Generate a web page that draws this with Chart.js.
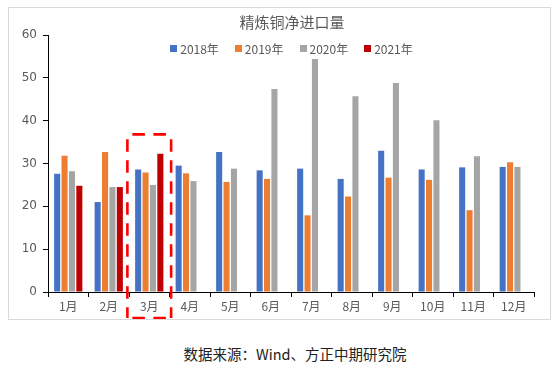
<!DOCTYPE html>
<html lang="zh">
<head>
  <meta charset="UTF-8">
  <title>精炼铜净进口量</title>
  <style>
    * { margin: 0; padding: 0; box-sizing: border-box; }
    body {
      width: 560px;
      height: 374px;
      background: #ffffff;
      position: relative;
      font-family: "Noto Sans CJK SC", "DejaVu Sans", sans-serif;
      overflow: hidden;
    }
    .chart-box {
      position: absolute;
      left: 8px;
      top: 7px;
      width: 543px;
      height: 313px;
      border: 1px solid #d9d9d9;
    }
    .chart-box canvas { display: block; }
    .title {
      position: absolute;
      left: 0;
      top: 5px;
      width: 100%;
      padding-left: 25px;
      text-align: center;
      font-size: 15px;
      line-height: 18px;
      color: #595959;
    }
    .legend {
      position: absolute;
      left: 0;
      top: 32px;
      width: 100%;
      display: flex;
      justify-content: center;
      gap: 16px;
      padding-left: 24px;
      font-size: 12px;
      color: #595959;
    }
    .legend span { display: flex; align-items: center; }
    .legend i {
      display: inline-block;
      width: 7px;
      height: 7px;
      margin-right: 3px;
    }
    .source {
      position: absolute;
      left: 0;
      top: 343px;
      width: 590px;
      text-align: center;
      font-size: 14.5px;
      color: #222;
    }
  </style>
  <script src="https://cdn.jsdelivr.net/npm/chart.js@4.4.0/dist/chart.umd.min.js"></script>
</head>
<body>
  <div class="chart-box">
    <canvas id="copyChart" width="541" height="311"></canvas>
    <div class="title">精炼铜净进口量</div>
    <div class="legend" id="legend"></div>
  </div>
  <div class="source">数据来源：Wind、方正中期研究院</div>

  <script>
    const months = ['1月', '2月', '3月', '4月', '5月', '6月', '7月', '8月', '9月', '10月', '11月', '12月'];
    const seriesNames = ['2018年', '2019年', '2020年', '2021年'];
    const seriesColors = ['#4472C4', '#ED7D31', '#A5A5A5', '#C00000'];
    const y2018 = [27.6, 21.0, 28.6, 29.5, 32.7, 28.4, 28.8, 26.4, 33.0, 28.6, 29.1, 29.2];
    const y2019 = [31.8, 32.7, 27.9, 27.7, 25.7, 26.4, 17.9, 22.3, 26.7, 26.2, 19.1, 30.3];
    const y2020 = [28.2, 24.5, 25.0, 25.9, 28.8, 47.4, 54.4, 45.7, 48.8, 40.1, 31.7, 29.2];
    const y2021 = [24.8, 24.5, 32.3, null, null, null, null, null, null, null, null, null];
    const yTicks = [0, 10, 20, 30, 40, 50, 60];

    const allSeries = [y2018, y2019, y2020, y2021];

    // 图例（HTML）
    const legendEl = document.getElementById('legend');
    seriesNames.forEach((name, i) => {
      legendEl.innerHTML += '<span><i style="background:' + seriesColors[i] + '"></i>' + name + '</span>';
    });

    // 3月的红色虚线框
    const highlightBox = {
      id: 'highlightBox',
      afterDatasetsDraw(chart) {
        const x = chart.scales.x;
        const y = chart.scales.y;
        const cx = x.getPixelForValue(2);
        const half = x.width / months.length * 0.54;
        const l = cx - half, r = cx + half;
        const t = y.getPixelForValue(36.8);
        const b = chart.chartArea.bottom + 26;
        const ctx = chart.ctx;
        ctx.save();
        ctx.strokeStyle = '#ff0000';
        ctx.lineWidth = 2.6;
        ctx.setLineDash([12.5, 8.5]);
        ctx.lineDashOffset = 16;
        [[l, t, r, t], [l, t, l, b], [r, t, r, b], [l, b, r, b]].forEach(s => {
          ctx.beginPath();
          ctx.moveTo(s[0], s[1]);
          ctx.lineTo(s[2], s[3]);
          ctx.stroke();
        });
        ctx.restore();
      }
    };

    const ctx = document.getElementById('copyChart').getContext('2d');
    new Chart(ctx, {
      type: 'bar',
      data: {
        labels: months,
        datasets: allSeries.map((data, i) => ({
          label: seriesNames[i],
          data: data,
          backgroundColor: seriesColors[i],
          categoryPercentage: 0.73,
          barPercentage: 0.82
        }))
      },
      options: {
        responsive: false,
        animation: false,
        layout: { padding: { left: 0, right: 16, top: 27, bottom: 0 } },
        plugins: {
          legend: { display: false },
          tooltip: { enabled: false },
          title: { display: false }
        },
        scales: {
          x: {
            grid: { display: true, drawOnChartArea: false, drawTicks: true, tickLength: 5, color: '#000' },
            border: { display: true, color: '#000', width: 1 },
            ticks: {
              color: '#595959',
              font: { size: 12, family: '"Noto Sans CJK SC", sans-serif' },
              padding: 2,
              maxRotation: 0
            },
            afterFit(scale) { scale.height = 27; }
          },
          y: {
            min: 0,
            max: 60,
            afterBuildTicks(scale) { scale.ticks = yTicks.map(v => ({ value: v })); },
            grid: { display: true, drawOnChartArea: false, drawTicks: true, tickLength: 5, color: '#000' },
            border: { display: true, color: '#000', width: 1 },
            ticks: {
              color: '#595959',
              font: { size: 12, family: '"DejaVu Sans", sans-serif' },
              padding: 6
            },
            afterFit(scale) { scale.width = 39; }
          }
        }
      },
      plugins: [highlightBox]
    });
  </script>
</body>
</html>
